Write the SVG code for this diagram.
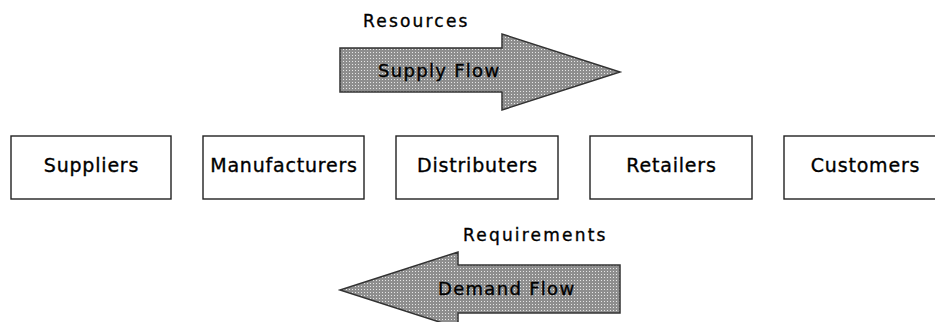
<svg xmlns="http://www.w3.org/2000/svg" width="935" height="322" viewBox="0 0 935 322">
<style>
.box{fill:#fff;stroke:#222;stroke-width:1.4}
text{stroke:#000;stroke-width:0.35px;fill:#000}
.lbl{font-family:"DejaVu Sans",Verdana,sans-serif;font-size:19px;letter-spacing:0.8px;text-anchor:middle}
.top{font-family:"DejaVu Sans",Verdana,sans-serif;font-size:17px;letter-spacing:2.2px}
.flow{font-family:"DejaVu Sans",Verdana,sans-serif;font-size:18px;letter-spacing:1.3px}
.arrow{fill:url(#dots);stroke:#333;stroke-width:1.5;stroke-linejoin:miter}
</style>
<defs>
<pattern id="dots" width="3" height="3" patternUnits="userSpaceOnUse">
<rect width="3" height="3" fill="#8e8e8e"/>
<rect x="1" y="1" width="1" height="1" fill="#e6e6e6"/>
</pattern>
</defs>
<rect width="935" height="322" fill="#fff"/>
<g id="connectors">
<g id="supply-flow">
<polygon class="arrow" points="340,48 502,48 502,34 620,72 502,110 502,92 340,92"/>
<text class="flow" x="378" y="77">Supply Flow</text>
</g>
<g id="demand-flow">
<polygon class="arrow" points="620,265 458,265 458,252 340,290 458,328 458,313 620,313"/>
<text class="flow" x="438" y="295">Demand Flow</text>
</g>
<text class="top" x="363" y="27">Resources</text>
<text class="top" x="463" y="241">Requirements</text>
</g>
<g id="suppliers"><rect class="box" x="11" y="136" width="160" height="63"/><text class="lbl" x="91.5" y="172">Suppliers</text></g>
<g id="manufacturers"><rect class="box" x="203" y="136" width="161" height="63"/><text class="lbl" x="284" y="172">Manufacturers</text></g>
<g id="distributers"><rect class="box" x="396" y="136" width="162" height="63"/><text class="lbl" x="477.5" y="172">Distributers</text></g>
<g id="retailers"><rect class="box" x="590" y="136" width="162" height="63"/><text class="lbl" x="671.5" y="172">Retailers</text></g>
<g id="customers"><rect class="box" x="784" y="136" width="162" height="63"/><text class="lbl" x="865.5" y="172">Customers</text></g>
</svg>
